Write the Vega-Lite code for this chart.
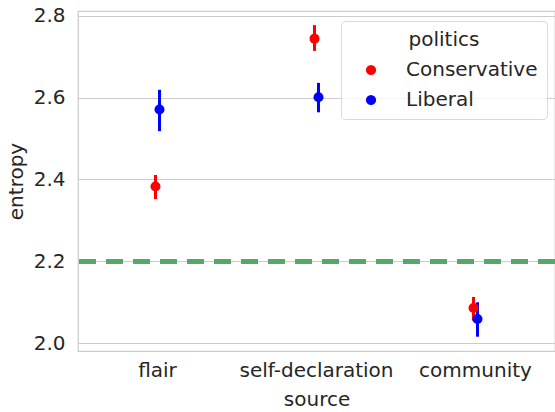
{
  "$schema": "https://vega.github.io/schema/vega-lite/v6.json",
  "autosize": "none",
  "padding": {"left": 78, "top": 11, "right": 0, "bottom": 61},
  "width": 477,
  "height": 340,
  "config": {
    "font": "DejaVu Sans",
    "view": {"stroke": "#cccccc", "strokeWidth": 1.25},
    "axis": {
      "labelFont": "DejaVu Sans", "titleFont": "DejaVu Sans",
      "labelFontSize": 20, "titleFontSize": 20,
      "labelColor": "#262626", "titleColor": "#262626",
      "titleFontWeight": "normal",
      "ticks": false, "domain": false,
      "gridColor": "#cccccc", "gridWidth": 1.1
    },
    "legend": {
      "labelFont": "DejaVu Sans", "titleFont": "DejaVu Sans",
      "labelFontSize": 20, "titleFontSize": 20,
      "labelColor": "#262626", "titleColor": "#262626",
      "titleFontWeight": "normal"
    }
  },
  "data": {
    "values": [
      {"source": "flair", "politics": "Conservative", "entropy": 2.383, "lo": 2.352, "hi": 2.411},
      {"source": "flair", "politics": "Liberal", "entropy": 2.571, "lo": 2.518, "hi": 2.619},
      {"source": "self-declaration", "politics": "Conservative", "entropy": 2.744, "lo": 2.714, "hi": 2.777},
      {"source": "self-declaration", "politics": "Liberal", "entropy": 2.601, "lo": 2.564, "hi": 2.636},
      {"source": "community", "politics": "Conservative", "entropy": 2.086, "lo": 2.055, "hi": 2.113},
      {"source": "community", "politics": "Liberal", "entropy": 2.059, "lo": 2.016, "hi": 2.100}
    ]
  },
  "encoding": {
    "x": {
      "field": "source", "type": "nominal",
      "sort": ["flair", "self-declaration", "community"],
      "scale": {"paddingInner": 0, "paddingOuter": 0},
      "axis": {"labelAngle": 0, "grid": false, "labelPadding": 9, "titlePadding": 9, "title": "source"}
    },
    "xOffset": {
      "field": "politics", "type": "nominal",
      "sort": ["Conservative", "Liberal"],
      "scale": {"type": "point", "range": [75.5, 83.5]}
    },
    "color": {
      "field": "politics", "type": "nominal",
      "sort": ["Conservative", "Liberal"],
      "scale": {"domain": ["Conservative", "Liberal"], "range": ["#ff0000", "#0000ff"]},
      "legend": {
        "orient": "none", "legendX": 263, "legendY": 10,
        "title": "politics", "titleAnchor": "middle",
        "symbolType": "circle", "symbolSize": 105, "symbolStrokeWidth": 0,
        "fillColor": "rgba(255,255,255,0.8)", "strokeColor": "#d9d9d9",
        "cornerRadius": 4, "padding": 9, "symbolOffset": 11,
        "labelOffset": 25, "titlePadding": 10, "rowPadding": 10
      }
    }
  },
  "layer": [
    {
      "mark": {"type": "rule", "color": "#55a868", "strokeWidth": 4.5, "strokeDash": [17, 10]},
      "encoding": {"y": {"datum": 2.2, "type": "quantitative"}, "x": null, "xOffset": null, "color": null}
    },
    {
      "mark": {"type": "rule", "strokeWidth": 3},
      "encoding": {
        "y": {"field": "lo", "type": "quantitative"},
        "y2": {"field": "hi"}
      }
    },
    {
      "mark": {"type": "circle", "size": 100, "opacity": 1},
      "encoding": {
        "y": {
          "field": "entropy", "type": "quantitative",
          "scale": {"domain": [1.981, 2.8115], "nice": false, "zero": false},
          "axis": {"values": [2.0, 2.2, 2.4, 2.6, 2.8], "format": ".1f", "labelPadding": 13, "titlePadding": 7, "grid": true, "title": "entropy"}
        }
      }
    }
  ]
}
